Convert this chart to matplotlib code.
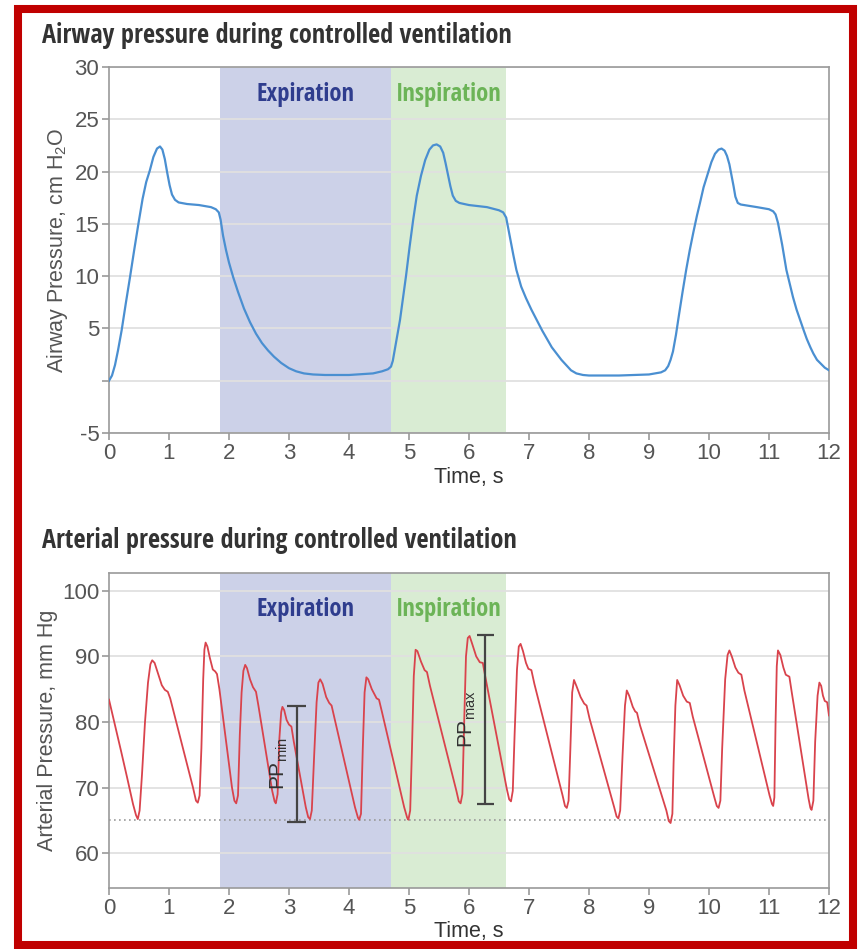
import matplotlib
matplotlib.use("Agg")
import matplotlib.pyplot as plt
from matplotlib import font_manager
from matplotlib.patches import Rectangle

# ---- data ----
airway_t = [0.00, 0.05, 0.10, 0.15, 0.21, 0.28, 0.35, 0.42, 0.49, 0.56, 0.62, 0.68, 0.74, 0.80,
            0.85, 0.89, 0.93, 0.97, 1.01, 1.05, 1.10, 1.16, 1.30, 1.50, 1.70, 1.78,
            1.83, 1.86, 1.90, 1.95, 2.00, 2.07, 2.15, 2.25, 2.35, 2.45, 2.55, 2.65, 2.75, 2.87,
            3.00, 3.12, 3.25, 3.40, 3.60, 4.00, 4.40, 4.55, 4.65, 4.70, 4.73, 4.77, 4.81, 4.85,
            4.90, 4.95, 5.01, 5.07, 5.13, 5.20, 5.27, 5.34, 5.40, 5.46, 5.52, 5.57, 5.61, 5.65,
            5.69, 5.73, 5.78, 5.84, 6.00, 6.30, 6.50, 6.57, 6.62, 6.68, 6.74, 6.79, 6.87, 6.95,
            7.04, 7.13, 7.22, 7.30, 7.38, 7.46, 7.54, 7.62, 7.70, 7.79, 7.90, 8.00, 8.50, 9.00,
            9.20, 9.27, 9.32, 9.36, 9.40, 9.45, 9.50, 9.56, 9.62, 9.68, 9.74, 9.80, 9.85, 9.91,
            9.98, 10.04, 10.10, 10.16, 10.21, 10.26, 10.30, 10.34, 10.37, 10.41, 10.44, 10.48,
            10.53, 10.80, 11.00, 11.07, 11.11, 11.15, 11.22, 11.29, 11.35, 11.40, 11.46, 11.52,
            11.58, 11.63, 11.69, 11.74, 11.80, 11.87, 11.93, 12.00]
airway_p = [0.0, 0.5, 1.5, 2.9, 4.8, 7.4, 9.9, 12.5, 15.0, 17.4, 19.0, 20.1, 21.4, 22.2,
            22.4, 22.1, 21.2, 19.9, 18.7, 17.8, 17.3, 17.05, 16.9, 16.8, 16.6, 16.4,
            16.1, 15.4, 13.9, 12.5, 11.3, 9.9, 8.5, 6.9, 5.6, 4.5, 3.6, 2.9, 2.3, 1.7,
            1.2, 0.9, 0.7, 0.6, 0.55, 0.55, 0.7, 0.9, 1.1, 1.35, 1.9, 3.2, 4.5, 5.8,
            7.9, 10.0, 12.8, 15.4, 17.7, 19.6, 21.1, 22.1, 22.5, 22.6, 22.4, 21.8, 20.8, 19.7,
            18.6, 17.7, 17.2, 17.0, 16.8, 16.6, 16.3, 16.1, 15.6, 13.8, 12.0, 10.6, 9.0, 7.9,
            6.8, 5.8, 4.8, 4.0, 3.2, 2.6, 2.0, 1.5, 1.0, 0.7, 0.55, 0.5, 0.5, 0.6,
            0.8, 1.0, 1.4, 2.0, 2.8, 4.4, 6.3, 8.5, 10.6, 12.5, 14.2, 15.8, 17.0, 18.5,
            19.8, 20.9, 21.7, 22.1, 22.2, 22.0, 21.5, 20.7, 19.8, 18.6, 17.6, 17.0,
            16.85, 16.6, 16.4, 16.2, 15.9, 15.1, 13.0, 10.6, 9.2, 8.0, 6.8, 5.8,
            4.8, 4.0, 3.2, 2.6, 2.0, 1.6, 1.25, 1.0]

arterial_t = [0.00, 0.10, 0.20, 0.30, 0.40, 0.45, 0.48, 0.51,
              0.55, 0.60, 0.65, 0.69, 0.72, 0.76, 0.82, 0.88, 0.93, 0.98, 1.02, 1.40, 1.45, 1.48, 1.51,
              1.54, 1.57, 1.59, 1.61, 1.64, 1.68, 1.73, 1.77, 1.80, 1.84, 2.05, 2.09, 2.12, 2.15,
              2.18, 2.21, 2.24, 2.27, 2.30, 2.35, 2.40, 2.45, 2.49, 2.72, 2.76, 2.78, 2.81,
              2.84, 2.87, 2.89, 2.92, 2.96, 3.00, 3.04, 3.08, 3.28, 3.32, 3.35, 3.38,
              3.42, 3.46, 3.49, 3.52, 3.56, 3.62, 3.67, 3.71, 3.76, 4.10, 4.15, 4.17, 4.20,
              4.23, 4.26, 4.29, 4.32, 4.38, 4.46, 4.50, 4.55, 4.92, 4.97, 4.99, 5.02,
              5.05, 5.08, 5.11, 5.14, 5.20, 5.26, 5.30, 5.35, 5.79, 5.83, 5.86, 5.89,
              5.92, 5.95, 5.98, 6.01, 6.05, 6.12, 6.18, 6.23, 6.28, 6.63, 6.67, 6.70, 6.73,
              6.76, 6.80, 6.83, 6.86, 6.90, 6.95, 6.99, 7.04, 7.09, 7.56, 7.60, 7.63, 7.66,
              7.69, 7.72, 7.75, 7.79, 7.86, 7.92, 7.96, 8.01, 8.42, 8.46, 8.49, 8.52,
              8.56, 8.60, 8.63, 8.67, 8.73, 8.77, 8.80, 8.85, 9.29, 9.33, 9.36, 9.39,
              9.41, 9.44, 9.47, 9.51, 9.57, 9.63, 9.68, 9.73, 10.09, 10.13, 10.16, 10.19,
              10.22, 10.27, 10.31, 10.34, 10.38, 10.44, 10.49, 10.54, 10.59, 11.01, 11.05, 11.07, 11.09,
              11.11, 11.13, 11.15, 11.19, 11.24, 11.28, 11.34, 11.38, 11.66, 11.69, 11.71, 11.74,
              11.77, 11.81, 11.84, 11.87, 11.90, 11.93, 11.97, 12.00]
arterial_p = [83.4, 79.5, 75.6, 71.6, 67.5, 65.8, 65.2, 66.5,
              72.0, 80.0, 86.0, 88.8, 89.4, 89.0, 87.3, 85.6, 84.9, 84.6, 83.6, 70.0, 68.0, 67.7, 68.8,
              76.0, 86.5, 91.0, 92.1, 91.5, 89.8, 88.0, 87.7, 87.3, 85.0, 70.0, 68.0, 67.6, 68.8,
              78.0, 84.5, 87.8, 88.7, 88.2, 86.5, 85.3, 84.6, 82.5, 69.5, 67.9, 67.6, 69.0,
              77.5, 81.5, 82.3, 81.8, 80.3, 79.6, 79.3, 77.0, 67.0, 65.5, 65.2, 66.5,
              75.0, 83.0, 86.0, 86.5, 85.8, 83.8, 82.9, 82.5, 80.5, 67.0, 65.4, 65.1, 66.0,
              76.0, 84.5, 86.8, 86.5, 85.0, 83.6, 83.4, 81.5, 67.0, 65.4, 65.1, 66.5,
              76.0, 87.0, 91.0, 90.8, 89.2, 87.9, 87.6, 85.5, 69.5, 67.9, 67.6, 69.0,
              80.0, 90.0, 92.8, 93.1, 92.0, 90.0, 89.1, 89.0, 86.5, 69.8, 68.2, 67.9, 69.5,
              78.0, 88.0, 91.5, 91.9, 90.8, 89.0, 88.1, 87.9, 85.8, 68.8, 67.2, 66.9, 68.0,
              76.0, 84.5, 86.4, 85.5, 83.8, 82.8, 82.5, 80.5, 67.0, 65.6, 65.3, 66.5,
              75.0, 82.5, 84.8, 84.0, 82.3, 81.6, 81.4, 79.5, 66.5, 64.9, 64.6, 66.0,
              73.7, 82.5, 86.4, 85.6, 84.0, 83.1, 82.9, 80.8, 68.5, 67.2, 66.9, 68.0,
              76.0, 86.5, 90.2, 90.9, 90.0, 88.3, 87.5, 87.2, 84.8, 68.8, 67.5, 67.2, 68.5,
              80.0, 88.5, 90.9, 90.2, 88.3, 87.2, 86.9, 84.5, 68.3, 66.9, 66.6, 68.0,
              77.0, 84.0, 86.0, 85.5, 84.0, 83.2, 83.0, 81.0]

expiration = (1.85, 4.70)
inspiration = (4.70, 6.62)
baseline = 65.0
pp_min_t, pp_min_lo, pp_min_hi = 3.13, 64.8, 82.4
pp_max_t, pp_max_lo, pp_max_hi = 6.27, 67.5, 93.3

x_ticks = list(range(0, 13))
airway_ticks = [-5, 0, 5, 10, 15, 20, 25, 30]
airway_ticklabels = ["-5", "", "5", "10", "15", "20", "25", "30"]
arterial_ticks = [60, 70, 80, 90, 100]

# ---- fonts: bold condensed face for headings if one is installed ----
flist = font_manager.fontManager.ttflist
cond = None
for cand in ["Liberation Sans Narrow", "Open Sans Condensed", "Roboto Condensed", "Noto Sans Condensed"]:
    if any(f.name == cand for f in flist):
        cond = cand
        break
if cond:
    head_font = dict(family=[cond, "DejaVu Sans"], weight="bold")
    hs = 1.22
else:
    head_font = dict(family=["Liberation Sans", "DejaVu Sans"], weight="bold")
    hs = 1.0

plt.rcParams["font.family"] = ["Liberation Sans", "DejaVu Sans"]
plt.rcParams["mathtext.fontset"] = "custom"
plt.rcParams["mathtext.rm"] = "Liberation Sans"
plt.rcParams["mathtext.it"] = "Liberation Sans:italic"

gray = "#555555"
spine_c = "#9a9a9a"
grid_c = "#e0e0e0"
blue_fill = "#ccd1e8"
green_fill = "#d9ecd3"
exp_c = "#2f3d8e"
insp_c = "#6cb457"

fig = plt.figure(figsize=(8.61, 9.49), dpi=100)
ax1 = fig.add_axes([0.1266, 0.5437, 0.8362, 0.3857])
ax2 = fig.add_axes([0.1266, 0.0643, 0.8362, 0.3319])


def style(ax):
    ax.set_xlim(0, 12)
    ax.set_xticks(x_ticks)
    for sp in ax.spines.values():
        sp.set_color(spine_c)
        sp.set_linewidth(1.2)
    ax.tick_params(colors=spine_c, labelcolor=gray, labelsize=16, length=5, width=1.2, pad=2)
    ax.grid(axis="y", color=grid_c, lw=1.3)
    ax.set_axisbelow(True)
    ax.axvspan(*expiration, color=blue_fill, zorder=0.5, lw=0)
    ax.axvspan(*inspiration, color=green_fill, zorder=0.5, lw=0)
    ax.set_xlabel("Time, s", fontsize=15.5, color="#333333", labelpad=2)


# top: airway pressure
style(ax1)
ax1.plot(airway_t, airway_p, color="#4a8fd1", lw=1.6, zorder=3, solid_joinstyle="round")
ax1.set_ylim(-5, 30)
ax1.set_yticks(airway_ticks)
ax1.set_yticklabels(airway_ticklabels)
ax1.set_ylabel("Airway Pressure, cm H$_2$O", fontsize=15.5, color=gray, labelpad=3)
for (a, b), lab, c in [(expiration, "Expiration", exp_c), (inspiration, "Inspiration", insp_c)]:
    ax1.text((a + b) / 2, 27.4, lab, ha="center", va="center", fontsize=14.5 * hs,
             color=c, **head_font)

# bottom: arterial pressure
style(ax2)
ax2.plot(arterial_t, arterial_p, color="#d9434c", lw=1.3, zorder=3, solid_joinstyle="round")
ax2.axhline(baseline, color="#999999", lw=1.2, ls=(0, (1, 2)), zorder=2)
ax2.set_ylim(54.7, 102.7)
ax2.set_yticks(arterial_ticks)
ax2.set_ylabel("Arterial Pressure, mm Hg", fontsize=15.5, color=gray, labelpad=3)
for (a, b), lab, c in [(expiration, "Expiration", exp_c), (inspiration, "Inspiration", insp_c)]:
    ax2.text((a + b) / 2, 97.1, lab, ha="center", va="center", fontsize=14.5 * hs,
             color=c, **head_font)

for t, lo, hi, cap, lab, lx in [(pp_min_t, pp_min_lo, pp_min_hi, 0.16, r"PP$_{\mathrm{min}}$", 2.84),
                                (pp_max_t, pp_max_lo, pp_max_hi, 0.14, r"PP$_{\mathrm{max}}$", 5.98)]:
    ax2.vlines(t, lo, hi, color="#444444", lw=1.6, zorder=4)
    ax2.hlines([lo, hi], t - cap, t + cap, color="#444444", lw=1.6, zorder=4)
    ax2.text(lx, (lo + hi) / 2, lab, rotation=90, ha="center", va="center",
             fontsize=15, color="#333333", zorder=5)

fig.text(0.049, 0.963, "Airway pressure during controlled ventilation",
         fontsize=15.5 * hs, color="#333333", va="center", **head_font)
fig.text(0.049, 0.430, "Arterial pressure during controlled ventilation",
         fontsize=15.5 * hs, color="#333333", va="center", **head_font)

fig.patches.append(Rectangle((0.0209, 0.0042), 0.9698, 0.9863, transform=fig.transFigure,
                             fill=False, edgecolor="#c00000", lw=5.8, zorder=10))

fig.savefig("out.png", dpi=100)
